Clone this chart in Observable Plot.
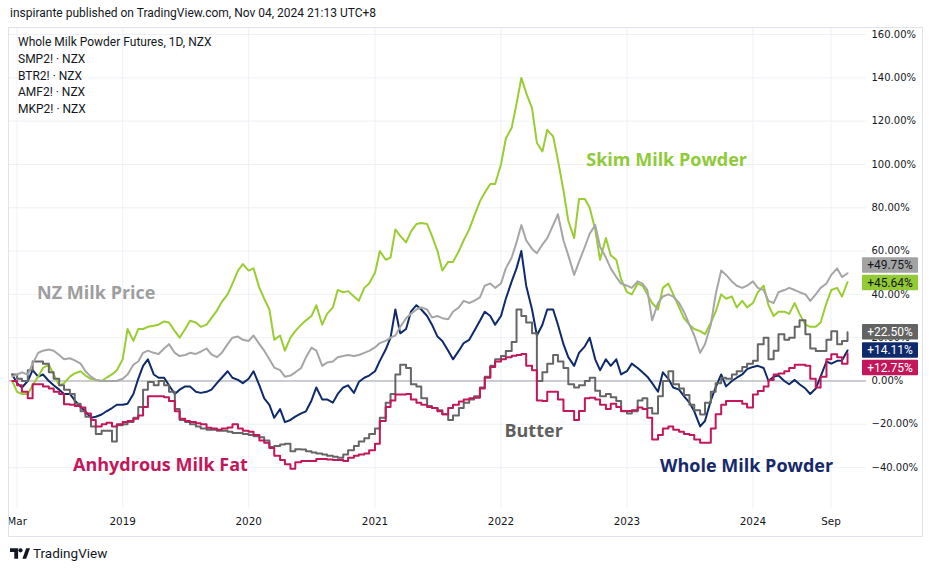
<!DOCTYPE html>
<html><head><meta charset="utf-8">
<script src="https://cdn.jsdelivr.net/npm/d3@7"></script>
<script src="https://cdn.jsdelivr.net/npm/@observablehq/plot@0.6"></script>
<style>
body{margin:0;background:#fff;font-family:Roboto,sans-serif;color:#131722;}
#wrap{position:relative;width:933px;height:571px;overflow:hidden;background:#fff;}
#hdr{position:absolute;left:10px;top:6px;font-size:12px;white-space:nowrap;}
#box{position:absolute;left:8px;top:27px;width:913px;height:508px;border:1px solid #e0e3eb;pointer-events:none;}
#chart{position:absolute;left:9px;top:28px;width:913px;height:508px;overflow:hidden;}
#legend{position:absolute;left:18px;top:34px;font-size:12px;line-height:16.8px;white-space:nowrap;}
#foot{position:absolute;left:10px;top:545px;font-size:13.5px;display:flex;align-items:center;gap:3px;}
</style></head>
<body><div id="wrap">
<div id="hdr">inspirante published on TradingView.com, Nov 04, 2024 21:13 UTC+8</div>
<div id="chart"></div>
<div id="box"></div>
<div id="legend">Whole Milk Powder Futures, 1D, NZX<br>SMP2! · NZX<br>BTR2! · NZX<br>AMF2! · NZX<br>MKP2! · NZX</div>
<div id="foot"><svg width="20" height="11" viewBox="0 0 21 11"><path d="M0 0h8.5v11h-4v-7h-4.5z" fill="#131722"/><circle cx="11" cy="2.2" r="2.2" fill="#131722"/><path d="M13 11L17 0h4l-4 11z" fill="#131722"/></svg><span>TradingView</span></div>
</div>
<script>
// semi-monthly observation dates: Feb 15 2018 ... Oct 1 2024 (160 points)
const dates = [];
for (let j = 0; j < 160; j++) {
  const m = j % 2 === 0 ? 1 + j / 2 : 1 + (j + 1) / 2;
  dates.push(new Date(Date.UTC(2018, m, j % 2 === 0 ? 15 : 1)));
}

// % change series
const smp = [
  0, -5, -6, -6, -2, 2, 6, 7.5, 3, -2,
  -1, 2, 3.5, 4.5, 2.5, 1, 0.5, 0, 1.5, 3,
  5, 10, 24, 18.5, 24, 24, 25, 25.5, 26, 27.5,
  27, 23, 20, 24, 27.8, 27, 25, 26, 29, 32.5,
  36.5, 40, 45, 51, 54, 51, 52, 43, 38, 33,
  19, 21, 14, 20, 23, 26, 28, 30, 35, 26,
  31, 34, 42, 41, 41.5, 39, 37, 43, 45, 50,
  60, 56, 57, 70, 67, 64, 69, 72.5, 73, 72.5,
  67, 60, 51, 55, 55, 60, 65, 70, 76, 83,
  87, 91, 91, 100, 112, 117, 128, 140, 133, 126,
  110, 106, 116, 113, 102, 88, 74, 66, 84, 84,
  80, 70, 56, 66, 58, 56, 47, 41, 40, 45,
  44, 40, 36, 33, 43, 45, 40, 34, 29, 26,
  24, 23, 21.6, 27, 32, 40, 38, 39, 34, 37,
  34, 36, 41, 44, 35, 30, 32, 32, 31, 36,
  31, 26, 25, 25, 27, 36, 42, 43, 39, 45.64
];
const mkp = [
  2, 3, 4, 3, 8, 13, 14, 14.5, 14, 12,
  10, 10.5, 9.5, 8, 4.5, 2, 0.5, 0, 0, 0,
  0, 1, 3, 7.5, 9, 13, 14, 13, 12.5, 15,
  17, 13, 11.5, 12, 13, 12.5, 13.5, 15, 12.3, 11,
  13, 17, 20, 20.5, 19, 18.5, 21, 17, 14, 10,
  6.2, 5, 2, 2.5, 4, 6, 11, 15.4, 14, 7,
  8.5, 9, 11, 11.5, 12, 11.5, 12, 13, 13.9, 15.5,
  17.5, 18.5, 20, 21, 25, 29, 31, 33, 34, 33,
  29.3, 30, 29, 28.5, 32, 34, 37, 36, 37, 38.6,
  44, 45, 43, 45, 52, 57, 64, 72, 65, 61,
  59, 63, 66, 72, 77, 65, 58, 49, 55, 62,
  68, 72, 62, 57, 52, 48, 45, 44, 43, 46,
  45, 42, 28, 36, 39, 40, 39, 36, 32, 26,
  21, 13, 17, 26, 40, 51, 49, 46, 44, 43,
  44, 46, 43, 42, 37, 36, 41, 42, 43, 42,
  41, 40, 37, 40, 43, 45, 49, 52, 48, 49.75
];
const wmp = [
  3, -1, -3, 0, 5, 2, 3, 0, -2, -4,
  -6, -6, -9, -12, -14, -17, -16.5, -15.5, -14, -12.5,
  -11, -11, -10.5, -6, 1, 7, 10, 3, 1.5, 1.5,
  -2, -6, -4, -2.5, -2.5, -5, -5.5, -5, -4, -1,
  1.5, 4.5, 1.5, 0.5, -1, 1, 4.5, -2, -8, -11,
  -17, -13, -19, -18, -16.5, -15, -14, -9, -3, -8.5,
  -8.5, -10, -6, -3, -2, -5.5, -0.5, 1.5, 2.5, 4.5,
  9.3, 14.5, 20, 33, 22, 24, 32, 35, 33, 30,
  26, 20.5, 18.5, 14, 10, 14, 17.5, 19, 23, 27.8,
  32, 30, 26, 30, 38, 46, 52, 60, 44, 33,
  21, 26, 33, 33, 26, 17, 11, 7, 13, 16,
  20, 10, 5, 10, 7, 10, 3, 4.5, 8, 6,
  4, 2, -1, -5, 4, 1, -3, -4, -7, -10,
  -14, -21, -18.5, -9, -3, 3, -2.5, 0, 1.5, 3,
  5.5, 6.5, 7, 6, 0, 2, 2.5, 0, -1.5, 0.5,
  -1.5, -3.5, -6, -3.5, 2, 9, 8, 9.3, 9.5, 14.11
];
const btr = [
  3, 1, 0, 5, 9, 9, 8, 4, 1, -2,
  -4, -6, -10.5, -14, -16.5, -21, -24.5, -23, -23, -28,
  -20.5, -20, -19, -17, -12, -4, -0.5, -2, 0, -2,
  -5, -13, -18, -19, -20, -21, -22, -22.5, -22.5, -23,
  -23, -23.5, -24, -24, -24.5, -25, -25.5, -26, -27.5, -30.5,
  -30, -29.3, -29, -32.4, -31.5, -31.6, -32.4, -33, -33.5, -34,
  -34.5, -35, -35.5, -34, -32, -30, -28, -26.5, -24.5, -22,
  -17, -10, -6, 3, 7.5, 6, -1.5, -2.5, -8, -11.5,
  -12.5, -13.5, -15.4, -18, -16, -12.5, -10, -8.5, -7, -3,
  2, 7, 10, 11.5, 13.9, 18, 33, 30, 27, 22,
  0, 4, 8, 12, 9, 6, -1.5, -3, -2, 0,
  1.5, -4.5, -7, -6, -7.5, -9.3, -14, -15, -14, -9,
  -8, -12.5, -15, -7, 0, 4.5, -1.5, -3.5, -6.5, -11,
  -13.5, -15.5, -10, -5, -1, 1.5, 1, 3, 4.5, 6.5,
  8, 9.3, 17, 20, 10, 14, 21.6, 19, 20, 25,
  28, 21.6, 15, 13.9, 13.9, 19, 23, 17, 18.5, 22.5
];
const amf = [
  0, -2, -5, -8, -1.5, -1.5, -2.5, -3.5, -5, -6,
  -10.8, -11, -11.5, -12.3, -15, -18, -21, -20, -19.3, -21,
  -20, -19, -18.5, -17.5, -16, -12, -7, -7, -7, -7.5,
  -9.3, -14, -17.5, -18.5, -19, -19.5, -20, -21.6, -22, -22.5,
  -22, -21.5, -20, -22, -23, -23.5, -25, -27.5, -28.5, -30.9,
  -34.5, -36.5, -38.5, -40.5, -37.5, -37, -37, -37, -36, -36,
  -36.3, -36.5, -36.5, -37, -35.5, -34.5, -34, -33.5, -32, -29,
  -18.5, -12, -9, -6.2, -6.2, -6, -8.5, -10, -11, -12,
  -12.5, -14, -15.4, -12.5, -11, -9.5, -8.5, -8, -7.7, -3.5,
  1.5, 6.5, 9, 10, 11, 11.6, 12, 12.5, 7, 5,
  -9, -9.3, -5, -5, -8.5, -13.9, -13.9, -18, -13.9, -8,
  -7.7, -8.5, -11, -13, -10.5, -12, -13.9, -13.9, -13.5, -12.3,
  -13, -17, -27, -25, -22, -21, -22.5, -23.5, -24.5, -25,
  -27, -28.5, -28.5, -22, -15.4, -11, -9.3, -9.3, -9.3, -10.5,
  -12.3, -6.2, -4.6, -2.5, 0.5, 3, 3.5, 4.5, 6, 7.5,
  7.5, 7, 1, -3, 2, 10, 12.3, 11, 8, 12.75
];

// axis ticks (positions as placed on the bar-indexed time axis)
const xTickDates = ["2018-03-01","2019-01-01","2020-01-01","2021-01-01","2022-01-01","2023-01-01","2024-01-01","2024-08-14"].map(s => new Date(s));
const xTickLabels = ["Mar","2019","2020","2021","2022","2023","2024","Sep"];
const yTicks = [-40, -20, 0, 20, 40, 60, 80, 100, 120, 140, 160];

// series annotation labels
const labelText = ["Skim Milk Powder", "NZ Milk Price", "Butter", "Anhydrous Milk Fat", "Whole Milk Powder"];
const labelDate = ["2022-09-05", "2018-04-28", "2022-01-11", "2018-08-10", "2023-04-07"].map(s => new Date(s));
const labelValue = [101.8, 40.4, -23.3, -39.0, -39.5];
const labelColor = ["#8fcb38", "#9e9e9e", "#5f5f5f", "#c2185b", "#16296a"];

// last-value badges
const badgeValue = [49.75, 45.64, 22.50, 14.11, 12.75];
const badgeFill = ["#a3a3a3", "#93cb37", "#636363", "#0f2a6b", "#c2185b"];
const badgeInk = ["#131722", "#131722", "#ffffff", "#ffffff", "#ffffff"];
const badgeShift = [-7.8, 0.8, 0, 0, 14.6];

const rows = arr => dates.map((d, i) => ({date: d, v: arr[i]}));
const fmtPct = d => (d < 0 ? "\u2212" : "") + Math.abs(d).toFixed(2) + "%";
const axisFont = "DejaVu Sans, sans-serif";

const W = 913, H = 508;
const chart = Plot.plot({
  width: W, height: H,
  marginLeft: 0, marginRight: 56, marginTop: 0, marginBottom: 28,
  style: {fontFamily: "Roboto, sans-serif", fontSize: "12px", color: "#131722", background: "#fff", overflow: "hidden"},
  x: {type: "utc", domain: [new Date("2018-02-07"), new Date("2024-11-25")], axis: null, label: null},
  y: {domain: [-58.9, 162.8], axis: null, label: null},
  marks: [
    Plot.ruleY(yTicks, {stroke: "#eef1f6"}),
    Plot.ruleX(xTickDates, {stroke: "#eef1f6"}),
    Plot.ruleY([0], {stroke: "#9fa2aa", strokeWidth: 1}),
    Plot.axisX(xTickDates, {anchor: "bottom", label: null, tickSize: 0, tickPadding: 9, tickFormat: (d, i) => xTickLabels[i], fill: "#131722", fontSize: 10.4, fontFamily: axisFont}),
    Plot.axisY(yTicks, {anchor: "right", label: null, tickSize: 0, tickPadding: 5, tickFormat: fmtPct, fill: "#131722", fontSize: 10, fontFamily: axisFont, textAnchor: "start"}),
    Plot.line(rows(wmp), {x: "date", y: "v", stroke: "#0f2a6b", strokeWidth: 2}),
    Plot.line(rows(smp), {x: "date", y: "v", stroke: "#9acd32", strokeWidth: 2}),
    Plot.line(rows(btr), {x: "date", y: "v", stroke: "#666666", strokeWidth: 2, curve: "step-after"}),
    Plot.line(rows(amf), {x: "date", y: "v", stroke: "#c2185b", strokeWidth: 2, curve: "step-after"}),
    Plot.line(rows(mkp), {x: "date", y: "v", stroke: "#a6a6a6", strokeWidth: 2}),
    ...labelText.map((t, i) => Plot.text([t], {
      x: () => labelDate[i], y: () => labelValue[i], text: d => d,
      fill: labelColor[i], textAnchor: "start", lineAnchor: "middle",
      fontSize: 18, fontWeight: "bold", fontFamily: "Open Sans, sans-serif"
    }))
  ]
});
document.getElementById("chart").appendChild(chart);

// badges placed through the chart's own y scale
const ys = chart.scale("y");
const svg = d3.select(chart);
const g = svg.append("g");
badgeValue.forEach((v, i) => {
  const cy = ys.apply(v) + badgeShift[i];
  g.append("rect").attr("x", 853).attr("y", cy - 7.8).attr("width", 56).attr("height", 15.6)
    .attr("rx", 1).attr("fill", badgeFill[i]);
  g.append("text").attr("x", 881).attr("y", cy).attr("dy", "0.35em")
    .attr("text-anchor", "middle").attr("fill", badgeInk[i])
    .attr("font-family", "Roboto, sans-serif").attr("font-size", 12)
    .text((v >= 0 ? "+" : "") + v.toFixed(2) + "%");
});
</script>
</body></html>
